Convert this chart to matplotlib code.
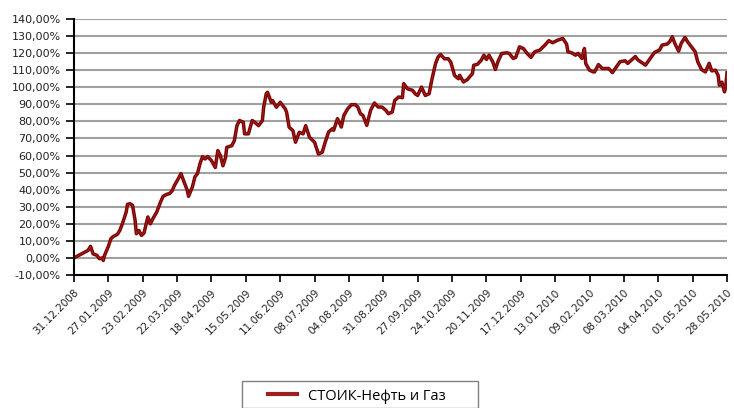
import pandas as pd
import matplotlib
matplotlib.use('Agg')
import matplotlib.pyplot as plt
from matplotlib.ticker import FuncFormatter, MultipleLocator
from matplotlib.patches import Rectangle

# days since 31.12.2008 and cumulative return (%)
days = [0, 11, 13, 15, 18, 20, 22, 23, 24, 27, 29, 31, 34, 36, 38, 41, 42, 44, 46, 48,
        49, 51, 53, 55, 57, 58, 60, 62, 65, 68, 70, 73, 75, 77, 79, 82, 84, 86, 89, 90,
        93, 95, 97, 99, 101, 103, 105, 108, 111, 113, 115, 117, 119, 120, 124, 126, 128, 130, 133, 134,
        137, 140, 142, 145, 148, 149, 151, 152, 155, 156, 159, 162, 166, 167, 169, 172, 174, 177, 180, 182,
        185, 189, 192, 195, 197, 200, 203, 204, 207, 210, 212, 215, 218, 221, 223, 225, 227, 230, 233, 236,
        239, 242, 245, 247, 250, 252, 255, 258, 259, 262, 266, 268, 270, 273, 276, 279, 281, 284, 286, 288,
        291, 294, 296, 299, 302, 303, 306, 309, 313, 314, 317, 320, 322, 324, 326, 329, 331, 333, 336, 340,
        342, 345, 347, 350, 353, 356, 359, 362, 366, 370, 373, 376, 380, 384, 387, 388, 391, 394, 396, 399,
        401, 402, 405, 408, 409, 412, 415, 420, 423, 429, 433, 435, 441, 443, 449, 456, 460, 462, 466, 468,
        470, 472, 475, 477, 480, 482, 486, 488, 490, 493, 496, 499, 501, 504, 506, 507, 509, 511, 512, 513]
stoik = [0, 4.4, 6.8, 2.4, 1.5, -0.5, 0, -1.5, 1.5, 6.8, 11.3, 12.6, 13.8, 16.1, 20, 26.9, 31.4, 31.8, 30.8, 22,
         14.2, 16.1, 13.2, 14.6, 21, 24, 20, 23, 26.9, 32.8, 36.1, 37.3, 37.7, 39.2, 42.6, 46.5, 49.4, 45.5, 39.6, 36.1,
         41.6, 47.5, 49.4, 55.3, 59.4, 58, 59.4, 57, 53, 62.9, 60, 54, 58.6, 64.8, 65.8, 68.8, 77.5, 80.5, 79.5, 72.7,
         72.7, 80.5, 79.5, 77.5, 80.5, 88.3, 96.1, 97.1, 91.2, 92.2, 88.3, 91.2, 87.3, 85.4, 76.6, 74.6, 67.8, 73.6, 72.7, 77.5,
         70.7, 67.8, 60.9, 61.9, 67, 73.8, 75.7, 74.8, 81.6, 76.7, 83.5, 87.4, 89.8, 89.8, 88.4, 84.5, 83.5, 77.7, 86.5, 90.8,
         88.4, 88.4, 86.5, 84.5, 85.5, 92.3, 94.3, 93.9, 102.1, 99.1, 98.2, 96.2, 95.2, 100.1, 95.2, 96.2, 104, 113.8, 117.7, 119.2,
         116.7, 116.7, 114.7, 106.9, 105, 107, 103.1, 104.5, 108, 112.9, 113.5, 115.9, 118.8, 116.3, 118.8, 114.9, 110.4, 114.9, 119.8, 120.2,
         119.8, 116.9, 117.5, 123.7, 122.7, 119.8, 117.5, 120.8, 121.8, 124.7, 127.3, 126.1, 127.6, 128.6, 125.3, 120.8, 120.2, 118.8, 119.8, 116.9,
         122.7, 113.9, 110, 109, 109, 113.3, 111, 111, 108.6, 115, 115.5, 114, 118, 116, 113, 120.4, 121.8, 124.7, 125.3, 126.7,
         129.6, 125.7, 121.2, 125.7, 129.2, 126.7, 122.7, 120.8, 115, 110.4, 109, 114, 109.6, 110, 107, 101.2, 103, 97.3, 100, 108.5]

start = pd.Timestamp('2008-12-31')
dates = start + pd.to_timedelta(days, unit='D')
tick_dates = pd.date_range(start, periods=20, freq='27D')

fig = plt.figure(figsize=(7.34, 4.08), dpi=100)
ax = fig.add_axes([74 / 734, 1 - 275 / 408, 653 / 734, 256 / 408])

ax.plot(dates, stoik, color='#800000', lw=2.5, solid_joinstyle='round', label='СТОИК-Нефть и Газ')
# thin light core, gives the doubled-line look of the original
ax.plot(dates, stoik, color='#c06060', lw=0.4, alpha=0.6)

ax.set_ylim(-10, 140)
ax.yaxis.set_major_locator(MultipleLocator(10))
ax.yaxis.set_major_formatter(FuncFormatter(lambda v, p: f'{v:.2f}%'.replace('.', ',')))
ax.set_xlim(start, tick_dates[-1])
ax.set_xticks(tick_dates)
ax.set_xticklabels([d.strftime('%d.%m.%Y') for d in tick_dates], rotation=45,
                   ha='right', rotation_mode='anchor', fontsize=7.5, color='#222222')
ax.tick_params(axis='y', labelsize=8, length=6, width=1.2, colors='black', labelcolor='#222222')
ax.tick_params(axis='x', length=5, width=1.2, pad=4)

ax.grid(axis='y', color='#a0a0a0', lw=1.5)
ax.set_axisbelow(True)
for s in ['top', 'right']:
    ax.spines[s].set_visible(False)
ax.spines['left'].set_linewidth(1.5)
ax.spines['bottom'].set_linewidth(1.5)

# legend box, partly cut off by the bottom edge as in the original
fig.patches.append(Rectangle((242 / 734, 0), 236 / 734, 1 - 381 / 408, transform=fig.transFigure,
                             fill=False, edgecolor='#808080', lw=1))
leg = fig.legend(loc='center left', bbox_to_anchor=(268 / 734, 1 - 396 / 408),
                 frameon=False, prop={'family': ['Open Sans', 'DejaVu Sans'], 'size': 10.5},
                 handlelength=2.0, borderpad=0, borderaxespad=0, handletextpad=0.75)
for h in leg.legend_handles:
    h.set_color('#9b2020')
    h.set_linewidth(3)

fig.savefig('out.png', dpi=100)
